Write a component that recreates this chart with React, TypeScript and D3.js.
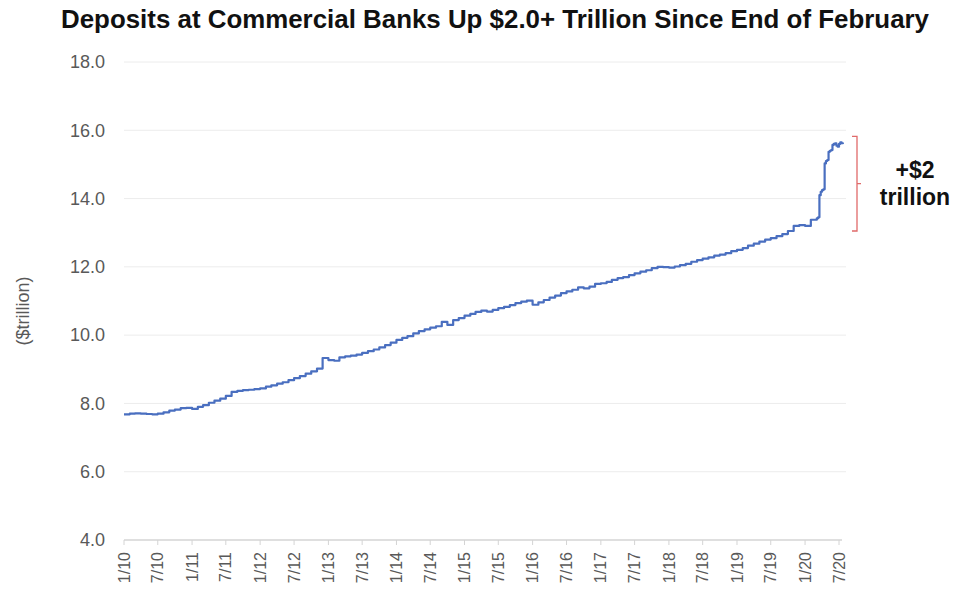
import React from "react";
import * as d3 from "d3";

const title = "Deposits at Commercial Banks Up $2.0+ Trillion Since End of February";
const yAxisTitle = "($trillion)";
const yTicks = [4, 6, 8, 10, 12, 14, 16, 18];
const xTickLabels = [
  "1/10", "7/10", "1/11", "7/11", "1/12", "7/12", "1/13", "7/13", "1/14", "7/14", "1/15",
  "7/15", "1/16", "7/16", "1/17", "7/17", "1/18", "7/18", "1/19", "7/19", "1/20", "7/20",
];

// Monthly levels ($ trillion), Jan..Dec
const values2010 = [7.68, 7.7, 7.71, 7.7, 7.69, 7.68, 7.7, 7.74, 7.79, 7.82, 7.86, 7.87];
const values2011 = [7.84, 7.9, 7.95, 8.02, 8.08, 8.14, 8.22, 8.34, 8.37, 8.39, 8.4, 8.42];
const values2012 = [8.44, 8.49, 8.53, 8.58, 8.62, 8.68, 8.74, 8.8, 8.87, 8.94, 9.02, 9.33];
const values2013 = [9.27, 9.25, 9.35, 9.38, 9.4, 9.43, 9.48, 9.53, 9.58, 9.64, 9.71, 9.78];
const values2014 = [9.86, 9.92, 9.97, 10.05, 10.12, 10.17, 10.22, 10.26, 10.39, 10.3, 10.44, 10.5];
const values2015 = [10.57, 10.62, 10.68, 10.72, 10.69, 10.74, 10.79, 10.83, 10.88, 10.94, 10.98, 11.01];
const values2016 = [10.89, 10.96, 11.03, 11.1, 11.16, 11.23, 11.28, 11.33, 11.4, 11.37, 11.42, 11.5];
const values2017 = [11.52, 11.56, 11.62, 11.67, 11.7, 11.76, 11.81, 11.86, 11.9, 11.96, 12.0, 11.99];
const values2018 = [11.98, 12.01, 12.05, 12.09, 12.15, 12.2, 12.24, 12.28, 12.33, 12.36, 12.4, 12.46];
const values2019 = [12.5, 12.55, 12.62, 12.68, 12.74, 12.8, 12.84, 12.9, 12.96, 13.05, 13.2, 13.22];
const values2020 = [13.2, 13.38];

// Weekly levels from March 2020
const weeklyDates2020 = [
  "2020-03-04", "2020-03-11", "2020-03-18", "2020-03-25", "2020-04-01", "2020-04-08",
  "2020-04-15", "2020-04-22", "2020-04-29", "2020-05-06", "2020-05-13", "2020-05-20",
  "2020-05-27", "2020-06-03", "2020-06-10", "2020-06-17", "2020-06-24", "2020-07-01",
  "2020-07-08", "2020-07-15", "2020-07-22",
];
const weeklyValues2020 = [
  13.42, 13.45, 14.1, 14.2, 14.25, 14.27, 15.03, 15.1, 15.13, 15.37, 15.4, 15.42,
  15.57, 15.6, 15.62, 15.55, 15.52, 15.6, 15.65, 15.62, 15.64,
];

const annotationLines = ["+$2", "trillion"];

const yearly: [number, number[]][] = [
  [2010, values2010], [2011, values2011], [2012, values2012], [2013, values2013],
  [2014, values2014], [2015, values2015], [2016, values2016], [2017, values2017],
  [2018, values2018], [2019, values2019], [2020, values2020],
];

type Pt = { date: Date; value: number };

export default function App() {
  const W = 961;
  const H = 597;
  const plotLeft = 124;
  const plotRight = 839;
  const plotTop = 62;
  const plotBottom = 540;

  const data: Pt[] = [];
  yearly.forEach(([yr, vals]) => {
    vals.forEach((v, i) => data.push({ date: new Date(yr, i, 1), value: v }));
  });
  weeklyDates2020.forEach((d, i) => {
    const [y, m, dd] = d.split("-").map(Number);
    data.push({ date: new Date(y, m - 1, dd), value: weeklyValues2020[i] });
  });

  const tickDates = xTickLabels.map((l) => {
    const [m, y] = l.split("/").map(Number);
    return new Date(2000 + y, m - 1, 1);
  });

  const x = d3
    .scaleTime()
    .domain([tickDates[0], tickDates[tickDates.length - 1]])
    .range([plotLeft, plotRight]);
  const y = d3.scaleLinear().domain([4, 18]).range([plotBottom, plotTop]);

  const line = d3
    .line<Pt>()
    .x((d) => x(d.date))
    .y((d) => y(d.value))
    .curve(d3.curveStepAfter);

  const gridRight = 846;
  const font = "'Liberation Sans', Arial, sans-serif";
  const gray = "#595959";

  // bracket geometry (annotation)
  const brX = 857;
  const brTop = y(15.82);
  const brBot = y(13.05);
  const brMid = (brTop + brBot) / 2;
  const red = "#e06a6a";

  return (
    <svg
      width={W}
      height={H}
      style={{ position: "absolute", left: 0, top: 0, background: "#fff" }}
    >
      <rect x={0} y={0} width={W} height={H} fill="#fff" />
      <text
        x={495}
        y={28}
        textAnchor="middle"
        fontFamily="'Liberation Sans Narrow', 'Liberation Sans', Arial, sans-serif"
        fontWeight="bold"
        fontSize={26}
        fill="#111"
        textLength={868}
        lengthAdjust="spacingAndGlyphs"
      >
        {title}
      </text>

      {/* gridlines */}
      {yTicks
        .filter((t) => t !== 4)
        .map((t) => (
          <line
            key={"g" + t}
            x1={plotLeft}
            x2={gridRight}
            y1={y(t)}
            y2={y(t)}
            stroke="#ececec"
            strokeWidth={1}
          />
        ))}

      {/* y labels */}
      {yTicks.map((t) => (
        <text
          key={"yl" + t}
          x={105}
          y={y(t)}
          dy="0.35em"
          textAnchor="end"
          fontFamily={font}
          fontSize={18}
          fill={gray}
        >
          {t.toFixed(1)}
        </text>
      ))}

      <text
        transform={`translate(23, ${(plotTop + plotBottom) / 2 + 10}) rotate(-90)`}
        textAnchor="middle"
        dy="0.35em"
        fontFamily={font}
        fontSize={18}
        fill={gray}
      >
        {yAxisTitle}
      </text>

      {/* x axis */}
      <line
        x1={plotLeft}
        x2={gridRight - 4}
        y1={plotBottom}
        y2={plotBottom}
        stroke="#d4d4d4"
        strokeWidth={1.5}
      />
      {tickDates.map((d, i) => (
        <g key={"xt" + i} transform={`translate(${x(d)}, ${plotBottom})`}>
          <line y1={0} y2={5} stroke="#d4d4d4" strokeWidth={1} />
          <text
            transform="translate(0, 12) rotate(-90)"
            textAnchor="end"
            dy="0.35em"
            fontFamily={font}
            fontSize={16}
            fill={gray}
          >
            {xTickLabels[i]}
          </text>
        </g>
      ))}

      {/* series */}
      <path
        d={line(data) || ""}
        fill="none"
        stroke="#4a6fc0"
        strokeWidth={2.2}
        strokeLinejoin="round"
      />

      {/* annotation bracket */}
      <path
        d={`M${brX - 5},${brTop} H${brX} V${brBot} H${brX - 5} M${brX},${brMid} H${brX + 4}`}
        fill="none"
        stroke={red}
        strokeWidth={1.3}
      />
      {annotationLines.map((s, i) => (
        <text
          key={"an" + i}
          x={915}
          y={178 + i * 27}
          textAnchor="middle"
          fontFamily={font}
          fontWeight="bold"
          fontSize={23}
          fill="#111"
        >
          {s}
        </text>
      ))}
    </svg>
  );
}
